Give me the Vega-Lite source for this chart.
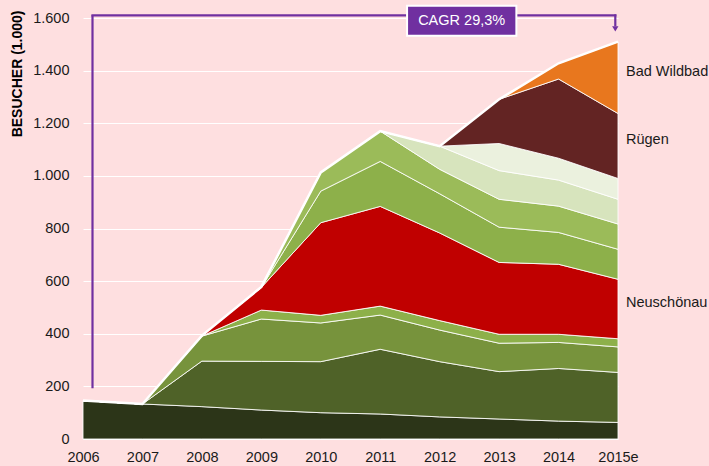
{
  "$schema": "https://vega.github.io/schema/vega-lite/v6.json",
  "width": 535,
  "height": 421,
  "autosize": {"type": "none"},
  "padding": {"left": 83, "top": 18, "right": 91, "bottom": 27},
  "background": "#fedfe0",
  "config": {"view": {"stroke": null}, "font": "Liberation Sans"},
  "datasets": {
    "besucher": [
      {"jahr": "2006", "park": "Park 1", "n": 1, "besucher": 146},
      {"jahr": "2007", "park": "Park 1", "n": 1, "besucher": 133},
      {"jahr": "2008", "park": "Park 1", "n": 1, "besucher": 123},
      {"jahr": "2009", "park": "Park 1", "n": 1, "besucher": 110},
      {"jahr": "2010", "park": "Park 1", "n": 1, "besucher": 100},
      {"jahr": "2011", "park": "Park 1", "n": 1, "besucher": 95},
      {"jahr": "2012", "park": "Park 1", "n": 1, "besucher": 84},
      {"jahr": "2013", "park": "Park 1", "n": 1, "besucher": 76},
      {"jahr": "2014", "park": "Park 1", "n": 1, "besucher": 68},
      {"jahr": "2015e", "park": "Park 1", "n": 1, "besucher": 63},
      {"jahr": "2006", "park": "Park 2", "n": 2, "besucher": 0},
      {"jahr": "2007", "park": "Park 2", "n": 2, "besucher": 0},
      {"jahr": "2008", "park": "Park 2", "n": 2, "besucher": 173},
      {"jahr": "2009", "park": "Park 2", "n": 2, "besucher": 185},
      {"jahr": "2010", "park": "Park 2", "n": 2, "besucher": 194},
      {"jahr": "2011", "park": "Park 2", "n": 2, "besucher": 246},
      {"jahr": "2012", "park": "Park 2", "n": 2, "besucher": 210},
      {"jahr": "2013", "park": "Park 2", "n": 2, "besucher": 180},
      {"jahr": "2014", "park": "Park 2", "n": 2, "besucher": 200},
      {"jahr": "2015e", "park": "Park 2", "n": 2, "besucher": 190},
      {"jahr": "2006", "park": "Park 3", "n": 3, "besucher": 0},
      {"jahr": "2007", "park": "Park 3", "n": 3, "besucher": 0},
      {"jahr": "2008", "park": "Park 3", "n": 3, "besucher": 95},
      {"jahr": "2009", "park": "Park 3", "n": 3, "besucher": 161},
      {"jahr": "2010", "park": "Park 3", "n": 3, "besucher": 147},
      {"jahr": "2011", "park": "Park 3", "n": 3, "besucher": 130},
      {"jahr": "2012", "park": "Park 3", "n": 3, "besucher": 120},
      {"jahr": "2013", "park": "Park 3", "n": 3, "besucher": 108},
      {"jahr": "2014", "park": "Park 3", "n": 3, "besucher": 99},
      {"jahr": "2015e", "park": "Park 3", "n": 3, "besucher": 97},
      {"jahr": "2006", "park": "Park 4", "n": 4, "besucher": 0},
      {"jahr": "2007", "park": "Park 4", "n": 4, "besucher": 0},
      {"jahr": "2008", "park": "Park 4", "n": 4, "besucher": 0},
      {"jahr": "2009", "park": "Park 4", "n": 4, "besucher": 34},
      {"jahr": "2010", "park": "Park 4", "n": 4, "besucher": 29},
      {"jahr": "2011", "park": "Park 4", "n": 4, "besucher": 34},
      {"jahr": "2012", "park": "Park 4", "n": 4, "besucher": 36},
      {"jahr": "2013", "park": "Park 4", "n": 4, "besucher": 34},
      {"jahr": "2014", "park": "Park 4", "n": 4, "besucher": 31},
      {"jahr": "2015e", "park": "Park 4", "n": 4, "besucher": 31},
      {"jahr": "2006", "park": "Neuschönau", "n": 5, "besucher": 0},
      {"jahr": "2007", "park": "Neuschönau", "n": 5, "besucher": 0},
      {"jahr": "2008", "park": "Neuschönau", "n": 5, "besucher": 2},
      {"jahr": "2009", "park": "Neuschönau", "n": 5, "besucher": 86},
      {"jahr": "2010", "park": "Neuschönau", "n": 5, "besucher": 352},
      {"jahr": "2011", "park": "Neuschönau", "n": 5, "besucher": 379},
      {"jahr": "2012", "park": "Neuschönau", "n": 5, "besucher": 333},
      {"jahr": "2013", "park": "Neuschönau", "n": 5, "besucher": 273},
      {"jahr": "2014", "park": "Neuschönau", "n": 5, "besucher": 266},
      {"jahr": "2015e", "park": "Neuschönau", "n": 5, "besucher": 226},
      {"jahr": "2006", "park": "Park 6", "n": 6, "besucher": 0},
      {"jahr": "2007", "park": "Park 6", "n": 6, "besucher": 0},
      {"jahr": "2008", "park": "Park 6", "n": 6, "besucher": 0},
      {"jahr": "2009", "park": "Park 6", "n": 6, "besucher": 0},
      {"jahr": "2010", "park": "Park 6", "n": 6, "besucher": 120},
      {"jahr": "2011", "park": "Park 6", "n": 6, "besucher": 171},
      {"jahr": "2012", "park": "Park 6", "n": 6, "besucher": 149},
      {"jahr": "2013", "park": "Park 6", "n": 6, "besucher": 134},
      {"jahr": "2014", "park": "Park 6", "n": 6, "besucher": 121},
      {"jahr": "2015e", "park": "Park 6", "n": 6, "besucher": 114},
      {"jahr": "2006", "park": "Park 7", "n": 7, "besucher": 0},
      {"jahr": "2007", "park": "Park 7", "n": 7, "besucher": 0},
      {"jahr": "2008", "park": "Park 7", "n": 7, "besucher": 0},
      {"jahr": "2009", "park": "Park 7", "n": 7, "besucher": 2},
      {"jahr": "2010", "park": "Park 7", "n": 7, "besucher": 71},
      {"jahr": "2011", "park": "Park 7", "n": 7, "besucher": 115},
      {"jahr": "2012", "park": "Park 7", "n": 7, "besucher": 93},
      {"jahr": "2013", "park": "Park 7", "n": 7, "besucher": 106},
      {"jahr": "2014", "park": "Park 7", "n": 7, "besucher": 100},
      {"jahr": "2015e", "park": "Park 7", "n": 7, "besucher": 96},
      {"jahr": "2006", "park": "Park 8", "n": 8, "besucher": 0},
      {"jahr": "2007", "park": "Park 8", "n": 8, "besucher": 0},
      {"jahr": "2008", "park": "Park 8", "n": 8, "besucher": 0},
      {"jahr": "2009", "park": "Park 8", "n": 8, "besucher": 0},
      {"jahr": "2010", "park": "Park 8", "n": 8, "besucher": 0},
      {"jahr": "2011", "park": "Park 8", "n": 8, "besucher": 0},
      {"jahr": "2012", "park": "Park 8", "n": 8, "besucher": 88},
      {"jahr": "2013", "park": "Park 8", "n": 8, "besucher": 109},
      {"jahr": "2014", "park": "Park 8", "n": 8, "besucher": 99},
      {"jahr": "2015e", "park": "Park 8", "n": 8, "besucher": 94},
      {"jahr": "2006", "park": "Park 9", "n": 9, "besucher": 0},
      {"jahr": "2007", "park": "Park 9", "n": 9, "besucher": 0},
      {"jahr": "2008", "park": "Park 9", "n": 9, "besucher": 0},
      {"jahr": "2009", "park": "Park 9", "n": 9, "besucher": 0},
      {"jahr": "2010", "park": "Park 9", "n": 9, "besucher": 0},
      {"jahr": "2011", "park": "Park 9", "n": 9, "besucher": 0},
      {"jahr": "2012", "park": "Park 9", "n": 9, "besucher": 0},
      {"jahr": "2013", "park": "Park 9", "n": 9, "besucher": 103},
      {"jahr": "2014", "park": "Park 9", "n": 9, "besucher": 83},
      {"jahr": "2015e", "park": "Park 9", "n": 9, "besucher": 79},
      {"jahr": "2006", "park": "Rügen", "n": 10, "besucher": 0},
      {"jahr": "2007", "park": "Rügen", "n": 10, "besucher": 0},
      {"jahr": "2008", "park": "Rügen", "n": 10, "besucher": 0},
      {"jahr": "2009", "park": "Rügen", "n": 10, "besucher": 0},
      {"jahr": "2010", "park": "Rügen", "n": 10, "besucher": 0},
      {"jahr": "2011", "park": "Rügen", "n": 10, "besucher": 0},
      {"jahr": "2012", "park": "Rügen", "n": 10, "besucher": 0},
      {"jahr": "2013", "park": "Rügen", "n": 10, "besucher": 168},
      {"jahr": "2014", "park": "Rügen", "n": 10, "besucher": 301},
      {"jahr": "2015e", "park": "Rügen", "n": 10, "besucher": 247},
      {"jahr": "2006", "park": "Bad Wildbad", "n": 11, "besucher": 0},
      {"jahr": "2007", "park": "Bad Wildbad", "n": 11, "besucher": 0},
      {"jahr": "2008", "park": "Bad Wildbad", "n": 11, "besucher": 0},
      {"jahr": "2009", "park": "Bad Wildbad", "n": 11, "besucher": 0},
      {"jahr": "2010", "park": "Bad Wildbad", "n": 11, "besucher": 0},
      {"jahr": "2011", "park": "Bad Wildbad", "n": 11, "besucher": 0},
      {"jahr": "2012", "park": "Bad Wildbad", "n": 11, "besucher": 0},
      {"jahr": "2013", "park": "Bad Wildbad", "n": 11, "besucher": 0},
      {"jahr": "2014", "park": "Bad Wildbad", "n": 11, "besucher": 60},
      {"jahr": "2015e", "park": "Bad Wildbad", "n": 11, "besucher": 273}
    ],
    "cagr": [
      {"von": "2006", "bis": "2015e", "unten": 193, "oben": 1610, "text": "CAGR 29,3%"}
    ]
  },
  "layer": [
    {
      "data": {"name": "besucher"},
      "mark": {"type": "area", "stroke": "white", "strokeWidth": 1, "strokeOpacity": 0.85, "interpolate": "linear"},
      "encoding": {
        "x": {
          "field": "jahr", "type": "ordinal", "sort": null,
          "scale": {"type": "point", "padding": 0, "domain": ["2006","2007","2008","2009","2010","2011","2012","2013","2014","2015e"]},
          "axis": {"title": null, "domain": false, "ticks": false, "tickSize": 0, "grid": false, "labelPadding": 11, "labelFontSize": 14.5, "labelAngle": 0, "labelColor": "#1a1a1a", "labelFlush": false, "labelOverlap": false}
        },
        "y": {
          "field": "besucher", "type": "quantitative", "stack": "zero",
          "scale": {"domain": [0, 1600], "nice": false},
          "axis": {
            "values": [0, 200, 400, 600, 800, 1000, 1200, 1400, 1600],
            "labelExpr": "replace(format(datum.value, ','), ',', '.')",
            "grid": true, "gridColor": "white", "gridWidth": 1, "gridOpacity": 1,
            "domain": false, "ticks": false, "tickSize": 0, "labelPadding": 14,
            "labelFontSize": 14.5, "labelColor": "#1a1a1a",
            "title": "BESUCHER (1.000)", "titleFontSize": 14, "titleFontWeight": "bold", "titleColor": "#000000",
            "titleAngle": -90, "titleX": -66, "titleY": -8, "titleAlign": "right", "titleBaseline": "middle"
          }
        },
        "color": {
          "field": "park", "type": "nominal", "legend": null,
          "scale": {
            "domain": ["Park 1","Park 2","Park 3","Park 4","Neuschönau","Park 6","Park 7","Park 8","Park 9","Rügen","Bad Wildbad"],
            "range": ["#2c3518","#4f6228","#77933c","#8db04a","#c00000","#8db04a","#9bbb59","#d7e4bd","#ebf1de","#632423","#e8771e"]
          }
        },
        "order": {"field": "n", "type": "quantitative"}
      }
    },
    {
      "data": {"name": "besucher"},
      "mark": {"type": "line", "color": "white", "strokeWidth": 2.5},
      "encoding": {
        "x": {"field": "jahr", "type": "ordinal", "sort": null},
        "y": {"aggregate": "sum", "field": "besucher", "type": "quantitative"}
      }
    },
    {
      "data": {"name": "besucher"},
      "transform": [
        {"filter": "datum.jahr === '2015e'"},
        {"stack": "besucher", "groupby": ["jahr"], "sort": [{"field": "n", "order": "ascending"}], "as": ["unten", "oben"]},
        {"filter": "indexof(['Neuschönau', 'Rügen', 'Bad Wildbad'], datum.park) >= 0"},
        {"calculate": "(datum.unten + datum.oben) / 2", "as": "mitte"}
      ],
      "mark": {"type": "text", "align": "left", "baseline": "middle", "dx": 8, "dy": -6, "fontSize": 14.5, "color": "#1a1a1a"},
      "encoding": {
        "x": {"field": "jahr", "type": "ordinal", "sort": null},
        "y": {"field": "mitte", "type": "quantitative"},
        "text": {"field": "park"}
      }
    },
    {
      "data": {"name": "cagr"},
      "layer": [
        {
          "mark": {"type": "rule", "color": "#7030a0", "strokeWidth": 2.2, "xOffset": 9.5},
          "encoding": {
            "x": {"field": "von", "type": "ordinal"},
            "y": {"field": "unten", "type": "quantitative"},
            "y2": {"field": "oben"}
          }
        },
        {
          "mark": {"type": "rule", "color": "#7030a0", "strokeWidth": 2.2, "xOffset": 8.4, "x2Offset": -1.6},
          "encoding": {
            "x": {"field": "von", "type": "ordinal"},
            "x2": {"field": "bis"},
            "y": {"field": "oben", "type": "quantitative"}
          }
        },
        {
          "mark": {"type": "rule", "color": "#7030a0", "strokeWidth": 2.2, "xOffset": -2.7, "yOffset": -1, "y2Offset": 11},
          "encoding": {
            "x": {"field": "bis", "type": "ordinal"},
            "y": {"field": "oben", "type": "quantitative"},
            "y2": {"field": "oben"}
          }
        },
        {
          "mark": {"type": "point", "shape": "triangle-down", "filled": true, "color": "#7030a0", "opacity": 1, "size": 40, "xOffset": -2.7, "yOffset": 13.5},
          "encoding": {
            "x": {"field": "bis", "type": "ordinal"},
            "y": {"field": "oben", "type": "quantitative"}
          }
        },
        {
          "mark": {"type": "rect", "fill": "#7030a0", "stroke": "white", "strokeWidth": 2, "xOffset": -32.6, "x2Offset": 76.7, "yOffset": -9.7, "y2Offset": 20.3},
          "encoding": {
            "x": {"datum": "2012", "type": "ordinal"},
            "x2": {"datum": "2012"},
            "y": {"field": "oben", "type": "quantitative"},
            "y2": {"field": "oben"}
          }
        },
        {
          "mark": {"type": "text", "color": "white", "fontSize": 14.5, "align": "center", "baseline": "middle", "xOffset": 22, "yOffset": 5.4},
          "encoding": {
            "x": {"datum": "2012", "type": "ordinal"},
            "y": {"field": "oben", "type": "quantitative"},
            "text": {"field": "text"}
          }
        }
      ]
    }
  ]
}
